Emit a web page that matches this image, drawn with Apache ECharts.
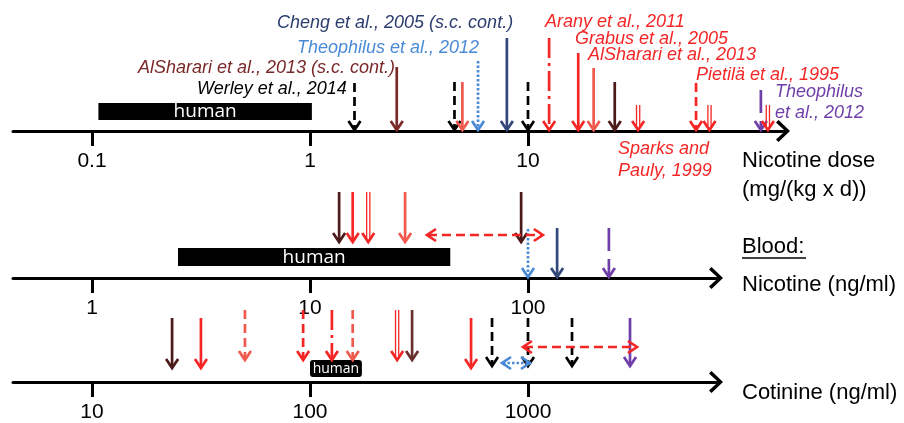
<!DOCTYPE html>
<html><head><meta charset="utf-8">
<script src="https://cdn.jsdelivr.net/npm/echarts@6/dist/echarts.min.js"></script>
<style>html,body{margin:0;padding:0;background:#fff}#c{width:904px;height:423px}</style>
</head><body><div id="c"></div>
<script>
// ---------- data ----------
const doseTicks = [0.1, 1, 10];
const doseTickLabels = ['0.1', '1', '10'];
const nicTicks = [1, 10, 100];
const nicTickLabels = ['1', '10', '100'];
const cotTicks = [10, 100, 1000];
const cotTickLabels = ['10', '100', '1000'];

// nicotine dose, mg/(kg x d)
const doseArrows = [1.6, 2.5, 4.6, 5.0, 5.9, 8.0, 10, 12.5, 17, 20, 25, 32, 59, 68, 117, 126];
const doseHuman = [0.107, 1.02];
// blood nicotine, ng/ml
const nicArrows = [13.6, 15.7, 18.5, 27.3, 93, 100, 136, 235];
const nicRanges = [[34.4, 117]];
const nicHuman = [2.48, 44];
// cotinine, ng/ml
const cotArrows = [23.3, 31.6, 50.3, 93, 126, 157, 251, 294, 548, 684, 1000, 1592, 2937];
const cotRanges = [[948, 3162], [760, 1021]];
const cotHuman = [100, 173];

// ---------- styles (colour, line type, top offset, tip offset) ----------
const C = {red:'#f42626', lred:'#f05a4e', brown:'#7a2828', dbrown:'#4c1a1a', mbrown:'#6a3030',
           navy:'#33477a', blue:'#4a8ad6', purple:'#6e3fa8', black:'#000000'};
const doseStyle = [
  ['black','dash',48,1], ['brown','solid',64,1], ['black','dash',49,1], ['lred','solid',49,1],
  ['blue','dot',70,1], ['navy','solid',93,1], ['black','dash',49,1], ['red','dashdot',93,1],
  ['red','solid',78,1], ['lred','solid',63,1], ['dbrown','solid',49,1], ['red','double',26,1],
  ['red','dash',48,1], ['red','double',26,1], ['purple','longdash',41,1], ['red','double',26,1]
];
const nicStyle = [
  ['dbrown','solid',86,36], ['red','solid',86,36], ['red','double',86,36], ['lred','solid',86,36],
  ['dbrown','solid',86,36], ['blue','dot',49,1], ['navy','solid',50,1], ['purple','longdash',50,1]
];
const nicRangeStyle = [['red','dash',43]];
const cotStyle = [
  ['dbrown','solid',64,14], ['red','solid',64,14], ['lred','dash',72,22], ['red','dash',72,22],
  ['red','dashdot',72,22], ['lred','dash',72,22], ['red','double',72,22], ['mbrown','solid',72,22],
  ['red','solid',64,14], ['black','dash',64,16], ['black','dash',64,16], ['black','dash',64,16],
  ['purple','solid',64,16]
];
const cotRangeStyle = [['red','dash',35], ['blue','dot',19]];

const DASH = {solid:null, dash:[9,5], dashdot:[20,5,3,5], dot:[2.5,2], longdash:[23,8]};
const LW = 2.7, HW = 6, HH = 9;

function chevron(points, color) {
  return {type:'polyline', shape:{points}, style:{stroke:color, lineWidth:LW, fill:null, lineJoin:'miter'}};
}
function vArrow(x, top, tip, color, type) {
  const ch = [];
  if (type === 'double') {
    ch.push({type:'line', shape:{x1:x-1.6, y1:top, x2:x-1.6, y2:tip-3}, style:{stroke:color, lineWidth:1.3}});
    ch.push({type:'line', shape:{x1:x+1.6, y1:top, x2:x+1.6, y2:tip-3}, style:{stroke:color, lineWidth:1.3}});
  } else {
    ch.push({type:'line', shape:{x1:x, y1:top, x2:x, y2:tip-1}, style:{stroke:color, lineWidth:LW, lineDash:DASH[type]}});
  }
  ch.push(chevron([[x-HW, tip-HH], [x, tip], [x+HW, tip-HH]], color));
  return {type:'group', children:ch};
}
function hArrow(x1, x2, y, color, type) {
  return {type:'group', children:[
    {type:'line', shape:{x1:x1+1, y1:y, x2:x2-1, y2:y}, style:{stroke:color, lineWidth:LW, lineDash:DASH[type]}},
    chevron([[x1+HH, y-HW], [x1, y], [x1+HH, y+HW]], color),
    chevron([[x2-HH, y-HW], [x2, y], [x2-HH, y+HW]], color)
  ]};
}

function arrowSeries(gi, values, styles) {
  return {type:'custom', xAxisIndex:gi, yAxisIndex:gi, clip:false, silent:true,
    data: values.map((v, i) => [v, i]),
    renderItem: (params, api) => {
      const s = styles[api.value(1)];
      const p = api.coord([api.value(0), 0]);
      return vArrow(p[0], p[1]-s[2], p[1]-s[3], C[s[0]], s[1]);
    }};
}
function rangeSeries(gi, ranges, styles) {
  return {type:'custom', xAxisIndex:gi, yAxisIndex:gi, clip:false, silent:true,
    data: ranges.map((r, i) => [r[0], i]),
    renderItem: (params, api) => {
      const i = api.value(1), s = styles[i];
      const a = api.coord([ranges[i][0], 0]), b = api.coord([ranges[i][1], 0]);
      return hArrow(a[0], b[0], a[1]-s[2], C[s[0]], s[1]);
    }};
}
function humanSeries(gi, range, topOff, botOff, fontSize, radius) {
  return {type:'custom', xAxisIndex:gi, yAxisIndex:gi, clip:false, silent:true, z:1,
    data: [[range[0], 0]],
    renderItem: (params, api) => {
      const a = api.coord([range[0], 0]), b = api.coord([range[1], 0]);
      const y0 = a[1];
      return {type:'group', children:[
        {type:'rect', shape:{x:a[0], y:y0-topOff, width:b[0]-a[0], height:topOff-botOff, r:radius}, style:{fill:'#000'}},
        {type:'text', x:(a[0]+b[0])/2, y:y0-(topOff+botOff)/2+0.5,
         style:{text:'human', fill:'#fff', font:fontSize+"px 'Open Sans', sans-serif", align:'center', verticalAlign:'middle'}}
      ]};
    }};
}

const AX_FONT = "'Liberation Sans', Arial, sans-serif";
const chevPath = 'path://M0,11.5 L11,0 L22,11.5 L19.6,14 L11,4.8 L2.4,14 Z';
function xAxisFor(gi, minExp, maxExp, ticks, labels) {
  return {gridIndex:gi, type:'log', logBase:10, min:Math.pow(10, minExp), max:Math.pow(10, maxExp),
    axisLine:{show:true, onZero:false, lineStyle:{color:'#000', width:3},
      symbol:['none', chevPath], symbolSize:[22, 14], symbolOffset:[0, -3]},
    axisTick:{show:true, customValues:ticks, length:15, inside:false, lineStyle:{color:'#000', width:3}},
    minorTick:{show:false}, splitLine:{show:false}, minorSplitLine:{show:false},
    axisLabel:{show:true, customValues:ticks, margin:20, color:'#000', fontSize:21, fontFamily:AX_FONT,
      formatter: v => {
        const k = ticks.findIndex(t => Math.abs(Math.log10(t) - Math.log10(v)) < 1e-6);
        return k >= 0 ? labels[k] : '';
      }}
  };
}

const IT = "italic 18px 'Liberation Sans', Arial, sans-serif";
const NF = "22px 'Liberation Sans', Arial, sans-serif";
function txt(t, x, y, color, font) {
  return {type:'text', x, y, silent:true, style:{text:t, fill:color, font:font||IT, align:'left', verticalAlign:'middle'}};
}

const chart = echarts.init(document.getElementById('c'), null, {renderer:'canvas'});
chart.setOption({
  animation:false,
  backgroundColor:'#fff',
  grid:[
    {left:13, width:773, top:0, height:131},
    {left:13, width:706, top:140, height:138},
    {left:13, width:706, top:290, height:97}
  ],
  xAxis:[
    xAxisFor(0, -1.36239, 2.18349, doseTicks, doseTickLabels),
    xAxisFor(1, -0.36239, 2.87615, nicTicks, nicTickLabels),
    xAxisFor(2, 0.63761, 3.87615, cotTicks, cotTickLabels)
  ],
  yAxis:[0,1,2].map(g => ({gridIndex:g, type:'value', min:0, max:1, show:false})),
  series:[
    humanSeries(0, doseHuman, 28, 11, 19, 0),
    arrowSeries(0, doseArrows, doseStyle),
    humanSeries(1, nicHuman, 30, 12, 19, 0),
    arrowSeries(1, nicArrows, nicStyle),
    rangeSeries(1, nicRanges, nicRangeStyle),
    humanSeries(2, cotHuman, 22, 5, 14, 3),
    arrowSeries(2, cotArrows, cotStyle),
    rangeSeries(2, cotRanges, cotRangeStyle)
  ],
  graphic:[
    txt('Cheng et al., 2005 (s.c. cont.)', 277, 23, '#2b3d6e'),
    txt('Theophilus et al., 2012', 297, 48, '#4a8ad6'),
    txt('AlSharari et al., 2013 (s.c. cont.)', 138, 68, '#7a2828'),
    txt('Werley et al., 2014', 197, 89, '#000'),
    txt('Arany et al., 2011', 545, 22, '#f42626'),
    txt('Grabus et al., 2005', 575, 39, '#f42626'),
    txt('AlSharari et al., 2013', 588, 55, '#f42626'),
    txt('Pietilä et al., 1995', 696, 75, '#f42626'),
    txt('Theophilus', 775, 92, '#6e3fa8'),
    txt('et al., 2012', 775, 113, '#6e3fa8'),
    txt('Sparks and', 618, 149, '#f42626'),
    txt('Pauly, 1999', 618, 171, '#f42626'),
    txt('Nicotine dose', 742, 161, '#000', NF),
    txt('(mg/(kg x d))', 742, 190, '#000', NF),
    txt('Blood:', 742, 247, '#000', NF),
    {type:'line', silent:true, shape:{x1:742, y1:258, x2:806, y2:258}, style:{stroke:'#000', lineWidth:1.5}},
    txt('Nicotine (ng/ml)', 742, 285, '#000', NF),
    txt('Cotinine (ng/ml)', 742, 393, '#000', NF)
  ]
});
</script>
</body></html>
